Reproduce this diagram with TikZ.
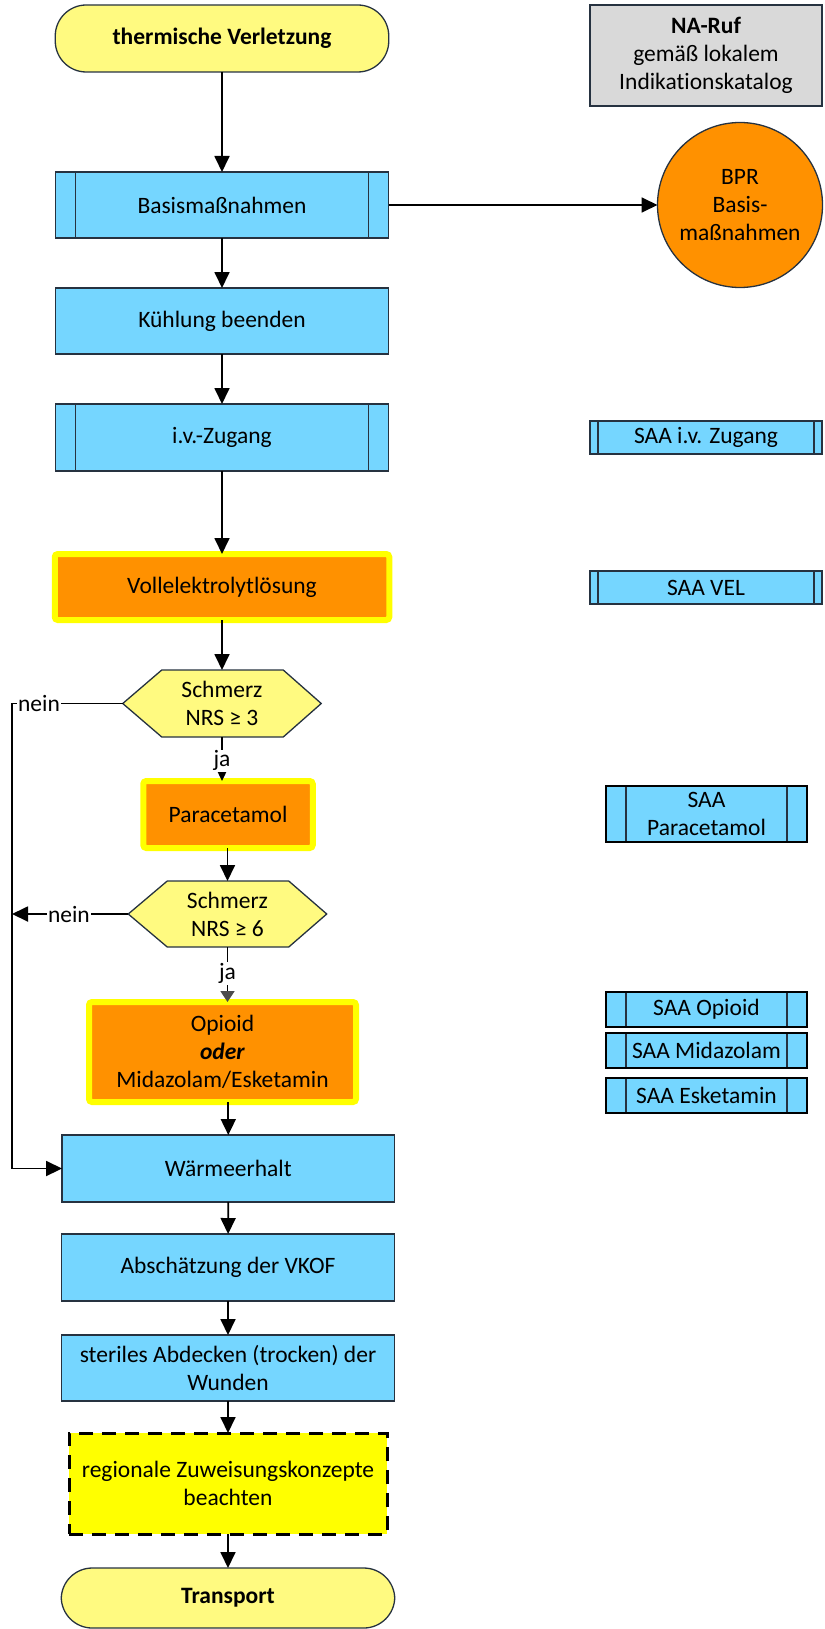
\documentclass[tikz,border=0pt]{standalone}
\usepackage{fontspec}
\setmainfont{Carlito}[Ligatures={NoCommon}]
\usetikzlibrary{arrows.meta,backgrounds}
\definecolor{cblue}{RGB}{117,214,255}
\definecolor{cpale}{RGB}{255,250,128}
\definecolor{corange}{RGB}{255,145,0}
\definecolor{cyel}{RGB}{255,255,0}
\definecolor{cgray}{RGB}{217,217,217}
\definecolor{cedge}{RGB}{38,50,64}
\tikzset{
  txt/.style={font=\fontsize{23.5}{28}\selectfont, align=center, inner sep=0pt, outer sep=0pt},
  wh/.style 2 args={minimum width=#1pt, minimum height=#2pt},
  box/.style={txt, draw=cedge, line width=1.3pt, rectangle},
  proc/.style={box, fill=cblue},
  subp/.style={proc, path picture={
     \draw[cedge,line width=1.3pt]
       ([xshift=#1]path picture bounding box.north west) -- ([xshift=#1]path picture bounding box.south west)
       ([xshift=-#1]path picture bounding box.north east) -- ([xshift=-#1]path picture bounding box.south east);}},
  term/.style={box, fill=cpale, rounded corners=31pt, font=\fontsize{23.5}{28}\selectfont\bfseries},
  med/.style={txt, fill=corange, draw=cyel, line width=6pt, rounded corners=3pt},
  hexn/.style={txt, rectangle},
  hexdraw/.style={fill=cpale, draw=cedge, line width=1.3pt},
  conn/.style={line width=1.8pt, -{Triangle[length=16pt,width=15pt]}},
  graytip/.style={line width=1.8pt, -{Triangle[length=11pt,width=14pt,fill=black!70,color=black!70]}},
  lbl/.style={txt, fill=white, inner sep=1pt}
}
\begin{document}
\begin{tikzpicture}[x=1pt,y=-1pt]
\useasboundingbox (0,0) rectangle (824,1629);
% main column
\node[term, wh={333.5}{67}] (start) at (222,38.5) {thermische Verletzung};
\node[subp=20pt, wh={333.5}{66}] (basis) at (222,205) {Basismaßnahmen};
\node[proc, wh={333.5}{66}] (kuehl) at (222,321) {Kühlung beenden};
\node[subp=20pt, wh={333.5}{67}] (iv) at (222,437.5) {i.v.-Zugang};
\node[med, wh={334.5}{66}] (vel) at (222,587) {Vollelektrolytlösung};
\node[hexn, wh={198.5}{67}] (hex1) at (222,703.5) {Schmerz\\NRS ≥ 3};
\node[med, wh={169.5}{67}] (para) at (228,814.5) {Paracetamol};
\node[hexn, wh={198.5}{66}] (hex2) at (227.5,914) {Schmerz\\NRS ≥ 6};
\node[med, wh={267}{100}] (opioid) at (222.5,1052) {Opioid\\\textbf{\textit{oder}}\\Midazolam/Esketamin};
\node[proc, wh={332.5}{67}] (waerme) at (228.3,1168.5) {Wärmeerhalt};
\node[proc, wh={333.5}{67}] (absch) at (228,1267.5) {Abschätzung der VKOF};
\node[proc, wh={333.5}{66}] (steril) at (228,1368) {steriles Abdecken (trocken) der\\Wunden};
\node[txt, fill=cyel, draw=black, line width=3pt, dash pattern=on 14pt off 9pt, wh={318}{101}] (regio) at (228,1483.5) {regionale Zuweisungskonzepte\\beachten};
\node[term, wh={333.5}{60}] (transport) at (228,1598) {Transport};
% right column
\node[box, fill=cgray, wh={232}{101}] (na) at (706,55.5) {\textbf{NA-Ruf}\\gemäß lokalem\\Indikationskatalog};
\node[txt, circle, draw=cedge, line width=1.3pt, fill=corange, minimum size=165pt] (bpr) at (740,205) {BPR\\Basis-\\maßnahmen};
\node[subp=8pt, wh={232}{33}] (saaiv) at (706,437.5) {SAA i.v. Zugang};
\node[subp=8pt, wh={232}{33}] (saavel) at (706,587.5) {SAA VEL};
\node[subp=20pt, wh={201}{56}, line width=1.8pt, draw=black] (saapara) at (706.5,814) {SAA\\Paracetamol};
\node[subp=20pt, wh={201}{35}, line width=1.8pt, draw=black] (saaopi) at (706.5,1009.5) {SAA Opioid};
\node[subp=20pt, wh={201}{35}, line width=1.8pt, draw=black] (saamida) at (706.5,1050.5) {SAA Midazolam};
\node[subp=20pt, wh={201}{35}, line width=1.8pt, draw=black] (saaeske) at (706.5,1095.5) {SAA Esketamin};
% hexagons
\begin{scope}[on background layer]
\foreach \h in {hex1,hex2}
  \draw[hexdraw] (\h.west) -- ([xshift=39pt]\h.north west) -- ([xshift=-38pt]\h.north east)
    -- (\h.east) -- ([xshift=-38pt]\h.south east) -- ([xshift=39pt]\h.south west) -- cycle;
\end{scope}
\coordinate (L) at (12,0);
% connectors
\draw[conn] (start) -- (basis);
\draw[conn] (basis) -- (bpr);
\draw[conn] (basis) -- (kuehl);
\draw[conn] (kuehl) -- (iv);
\draw[conn] (iv) -- (vel);
\draw[conn] (vel) -- (hex1);
\draw[conn] (hex1.south) -- node[lbl,pos=.54]{ja} (hex1.south |- para.north);
\draw[conn] (para.south -| hex2.north) -- (hex2.north);
\draw[graytip] (hex2.south) -- node[lbl,pos=.48]{ja} (hex2.south |- opioid.north);
\draw[conn] (waerme.north |- opioid.south) -- (waerme.north);
\draw[conn] (waerme) -- (absch);
\draw[conn] (absch) -- (steril);
\draw[conn] (steril) -- (regio);
\draw[conn] (regio) -- (transport);
\draw[conn] (hex1.west) -- node[lbl,pos=.756]{nein} (hex1.west -| L) |- (waerme.west);
\draw[conn] (hex2.west) -- node[lbl,pos=.51]{nein} (hex2.west -| L);
\end{tikzpicture}
\end{document}
